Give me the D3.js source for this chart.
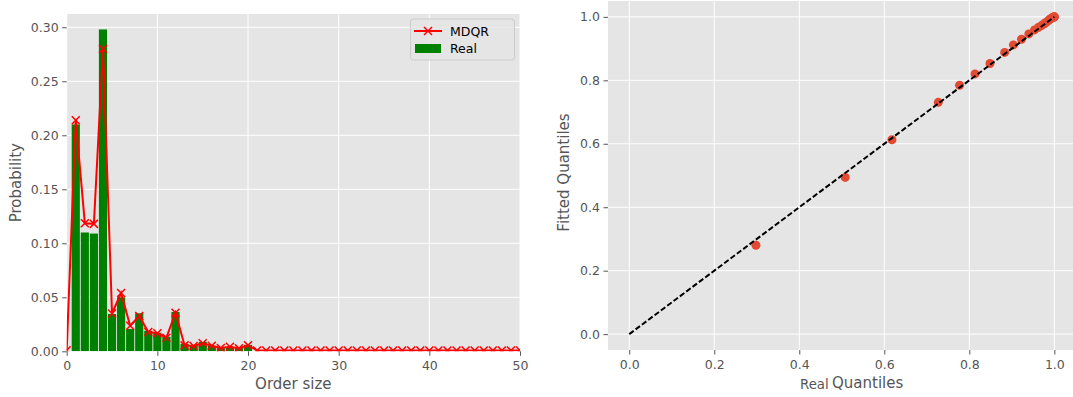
<!DOCTYPE html>
<html>
<head>
<meta charset="utf-8">
<script src="https://cdn.jsdelivr.net/npm/d3@7"></script>
<style>
  body { margin: 0; background: #ffffff; }
  text { font-family: "DejaVu Sans", sans-serif; }
</style>
</head>
<body>
<svg id="chart" width="1073" height="397"></svg>
<script>
// ---- Order-size distribution: observed frequencies ----
const realSizes = [1, 2, 3, 4, 5, 6, 7, 8, 9, 10, 11, 12, 13, 14, 15, 16, 17, 18, 19, 20];
const realProb = [0.210, 0.110, 0.109, 0.298, 0.0345, 0.050, 0.0206, 0.0352, 0.019, 0.0172,
                  0.0135, 0.0364, 0.0068, 0.0055, 0.0086, 0.005, 0.003, 0.004, 0.003, 0.006];

// ---- MDQR fitted probabilities ----
const mdqrSizes = [0, 1, 2, 3, 4, 5, 6, 7, 8, 9, 10, 11, 12, 13, 14, 15, 16, 17, 18, 19, 20,
                   21, 22, 23, 24, 25, 26, 27, 28, 29, 30, 31, 32, 33, 34, 35, 36, 37, 38, 39, 40,
                   41, 42, 43, 44, 45, 46, 47, 48, 49, 50];
const mdqrProb = [0.001, 0.214, 0.1185, 0.118, 0.280, 0.035, 0.054, 0.0237, 0.0327, 0.0179, 0.0167,
                  0.0126, 0.0357, 0.0055, 0.0049, 0.0074, 0.0052, 0.003, 0.0043, 0.0028, 0.0056,
                  0.0008, 0.0008, 0.0008, 0.0008, 0.0008, 0.0008, 0.0008, 0.0008, 0.0008, 0.0008,
                  0.0008, 0.0008, 0.0008, 0.0008, 0.0008, 0.0008, 0.0008, 0.0008, 0.0008, 0.0008,
                  0.0008, 0.0008, 0.0008, 0.0008, 0.0008, 0.0008, 0.0008, 0.0008, 0.0008, 0.0008];

// ---- Q-Q pairs (cumulative real vs fitted) ----
const realQuantiles = [0.298, 0.508, 0.618, 0.727, 0.777, 0.8134, 0.8486, 0.8831, 0.9037, 0.9227,
                       0.9399, 0.9534, 0.962, 0.9688, 0.9748, 0.9803, 0.9853, 0.9893, 0.9923, 0.9953,
                       0.997, 0.998, 0.999, 1.0, 1.0];
const fittedQuantiles = [0.280, 0.494, 0.6125, 0.7305, 0.7845, 0.8202, 0.8529, 0.8879, 0.9116, 0.9295,
                         0.9462, 0.9588, 0.9662, 0.9717, 0.9773, 0.9822, 0.9874, 0.9917, 0.9947, 0.9975,
                         0.998, 0.999, 0.9995, 1.0, 1.0];

// ---- Tick values ----
const leftXTicks = [0, 10, 20, 30, 40, 50];
const leftYTicks = [0, 0.05, 0.10, 0.15, 0.20, 0.25, 0.30];
const qqTicks = [0, 0.2, 0.4, 0.6, 0.8, 1.0];

const svg = d3.select("#chart");
const BG = "#E5E5E5", TXT = "#555555";

function styleAxis(g) {
  g.select(".domain").remove();
  g.selectAll(".tick line").attr("stroke", TXT).attr("stroke-width", 1);
  g.selectAll(".tick text").attr("fill", TXT).style("font-size", "12.5px")
    .style("font-family", "'DejaVu Sans', sans-serif");
}

// ================= Left panel: probability by order size =================
const L = { left: 66.7, right: 520, top: 14, bottom: 351.3 };
const xL = d3.scaleLinear().domain([0, 50]).range([L.left, L.right]);
const yL = d3.scaleLinear().domain([0, 0.3123]).range([L.bottom, L.top]);

svg.append("rect").attr("x", L.left).attr("y", L.top)
  .attr("width", L.right - L.left).attr("height", L.bottom - L.top).attr("fill", BG);

svg.append("clipPath").attr("id", "clipL").append("rect")
  .attr("x", L.left).attr("y", L.top).attr("width", L.right - L.left).attr("height", L.bottom - L.top);

const gridL = svg.append("g");
gridL.selectAll(".gx").data(leftXTicks).join("line")
  .attr("x1", d => xL(d)).attr("x2", d => xL(d)).attr("y1", L.top).attr("y2", L.bottom)
  .attr("stroke", "#fff").attr("stroke-width", 1);
gridL.selectAll(".gy").data(leftYTicks).join("line")
  .attr("x1", L.left).attr("x2", L.right).attr("y1", d => yL(d)).attr("y2", d => yL(d))
  .attr("stroke", "#fff").attr("stroke-width", 1);

const plotL = svg.append("g").attr("clip-path", "url(#clipL)");
const barW = 0.9;
plotL.selectAll(".bar").data(realSizes).join("rect")
  .attr("x", (d) => xL(d - barW / 2))
  .attr("width", xL(barW) - xL(0))
  .attr("y", (d, i) => yL(realProb[i]))
  .attr("height", (d, i) => yL(0) - yL(realProb[i]))
  .attr("fill", "#008000");

const mdqrPts = mdqrSizes.map((s, i) => [s, mdqrProb[i]]);
plotL.append("path").datum(mdqrPts)
  .attr("d", d3.line().x(d => xL(d[0])).y(d => yL(d[1])))
  .attr("fill", "none").attr("stroke", "#ff0000").attr("stroke-width", 2);

const mk = 4;
plotL.selectAll(".mk").data(mdqrPts).join("path")
  .attr("d", d => {
    const cx = xL(d[0]), cy = yL(d[1]);
    return `M${cx - mk},${cy - mk}L${cx + mk},${cy + mk}M${cx - mk},${cy + mk}L${cx + mk},${cy - mk}`;
  })
  .attr("stroke", "#ff0000").attr("stroke-width", 1.5).attr("fill", "none");

svg.append("g").attr("transform", `translate(0,${L.bottom})`)
  .call(d3.axisBottom(xL).tickValues(leftXTicks).tickFormat(d3.format("d")).tickSize(4.5).tickPadding(5.5))
  .call(styleAxis);
svg.append("g").attr("transform", `translate(${L.left},0)`)
  .call(d3.axisLeft(yL).tickValues(leftYTicks).tickFormat(d3.format(".2f")).tickSize(4.5).tickPadding(3.5))
  .call(styleAxis);

svg.append("text").attr("x", xL(25)).attr("y", 389).attr("text-anchor", "middle")
  .attr("fill", TXT).style("font-size", "15px").text("Order size");
svg.append("text").attr("transform", `translate(21,${(L.top + L.bottom) / 2}) rotate(-90)`)
  .attr("text-anchor", "middle").attr("fill", TXT).style("font-size", "15px").text("Probability");

// Legend
const leg = svg.append("g");
leg.append("rect").attr("x", 410.5).attr("y", 19).attr("width", 104).attr("height", 41)
  .attr("rx", 3).attr("fill", BG).attr("fill-opacity", 0.8).attr("stroke", "#cccccc");
leg.append("line").attr("x1", 414).attr("x2", 442).attr("y1", 31).attr("y2", 31)
  .attr("stroke", "#ff0000").attr("stroke-width", 2);
leg.append("path").attr("d", `M${428 - mk},${31 - mk}L${428 + mk},${31 + mk}M${428 - mk},${31 + mk}L${428 + mk},${31 - mk}`)
  .attr("stroke", "#ff0000").attr("stroke-width", 1.5);
leg.append("rect").attr("x", 415).attr("y", 44).attr("width", 26).attr("height", 9).attr("fill", "#008000");
leg.append("text").attr("x", 450).attr("y", 36).attr("fill", "#000").style("font-size", "12.5px").text("MDQR");
leg.append("text").attr("x", 450).attr("y", 53).attr("fill", "#000").style("font-size", "12.5px").text("Real");

// ================= Right panel: Q-Q plot =================
const R = { left: 608, right: 1075.6, top: 1, bottom: 350 };
const xR = d3.scaleLinear().domain([-0.05, 1.05]).range([R.left, R.right]);
const yR = d3.scaleLinear().domain([-0.05, 1.05]).range([R.bottom, R.top]);

svg.append("rect").attr("x", R.left).attr("y", R.top)
  .attr("width", R.right - R.left).attr("height", R.bottom - R.top).attr("fill", BG);
svg.append("clipPath").attr("id", "clipR").append("rect")
  .attr("x", R.left).attr("y", R.top).attr("width", R.right - R.left).attr("height", R.bottom - R.top);

const gridR = svg.append("g");
gridR.selectAll(".gx").data(qqTicks).join("line")
  .attr("x1", d => xR(d)).attr("x2", d => xR(d)).attr("y1", R.top).attr("y2", R.bottom)
  .attr("stroke", "#fff").attr("stroke-width", 1);
gridR.selectAll(".gy").data(qqTicks).join("line")
  .attr("x1", R.left).attr("x2", R.right).attr("y1", d => yR(d)).attr("y2", d => yR(d))
  .attr("stroke", "#fff").attr("stroke-width", 1);

const plotR = svg.append("g").attr("clip-path", "url(#clipR)");
const qqPts = realQuantiles.map((q, i) => [q, fittedQuantiles[i]]);
plotR.selectAll(".pt").data(qqPts).join("circle")
  .attr("cx", d => xR(d[0])).attr("cy", d => yR(d[1])).attr("r", 4.5)
  .attr("fill", "#E24A33");

plotR.append("line")
  .attr("x1", xR(0)).attr("y1", yR(0)).attr("x2", xR(1)).attr("y2", yR(1))
  .attr("stroke", "#000").attr("stroke-width", 2).attr("stroke-dasharray", "5.5,2.4");

svg.append("g").attr("transform", `translate(0,${R.bottom})`)
  .call(d3.axisBottom(xR).tickValues(qqTicks).tickFormat(d3.format(".1f")).tickSize(4.5).tickPadding(5.5))
  .call(styleAxis);
svg.append("g").attr("transform", `translate(${R.left},0)`)
  .call(d3.axisLeft(yR).tickValues(qqTicks).tickFormat(d3.format(".1f")).tickSize(4.5).tickPadding(3.5))
  .call(styleAxis);

svg.append("text").attr("x", 800).attr("y", 389).attr("fill", TXT).style("font-size", "13.3px").text("Real");
svg.append("text").attr("x", 832).attr("y", 388).attr("fill", TXT).style("font-size", "15px").text("Quantiles");
svg.append("text").attr("transform", `translate(569,${(yR(0) + yR(1)) / 2 - 3}) rotate(-90)`)
  .attr("text-anchor", "middle").attr("fill", TXT).style("font-size", "15px").text("Fitted Quantiles");
</script>
</body>
</html>
